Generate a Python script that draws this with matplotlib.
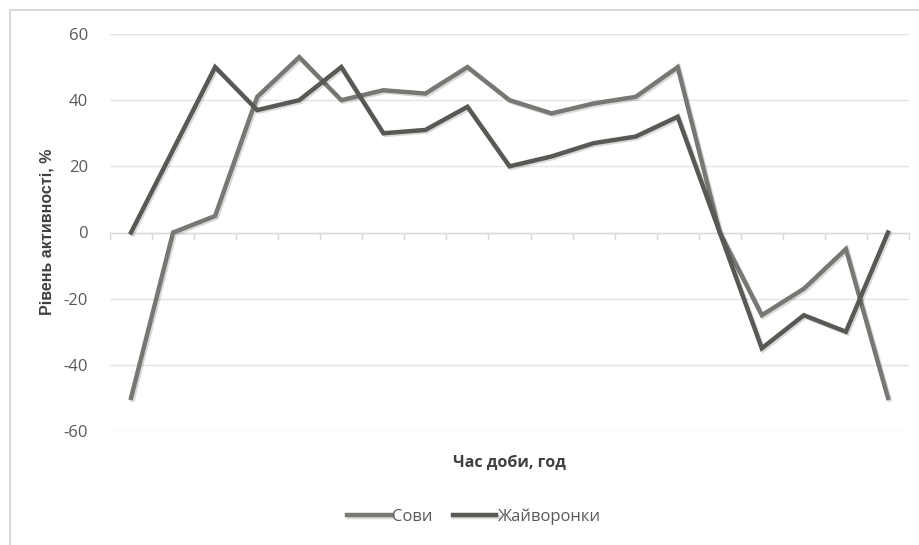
import matplotlib
matplotlib.use("Agg")
import matplotlib.pyplot as plt
import matplotlib.patheffects as pe
from matplotlib.patches import Rectangle
import numpy as np

# data
hours = list(range(19))
owls = [-50, 0, 5, 41, 53, 40, 43, 42, 50, 40, 36, 39, 41, 50, 0, -25, -17, -5, -50]
larks = [0, 25, 50, 37, 40, 50, 30, 31, 38, 20, 23, 27, 29, 35, 0, -35, -25, -30, 0]
series_names = ["Сови", "Жайворонки"]
y_ticks = [-60, -40, -20, 0, 20, 40, 60]

W, H = 919, 545
plt.rcParams['font.family'] = ['Open Sans', 'DejaVu Sans']

fig = plt.figure(figsize=(W / 100, H / 100), dpi=100)

# chart area border (Excel style)
fig.patches.append(Rectangle((10 / W, -0.1), 1.2, 1.1 - 10 / H,
                             transform=fig.transFigure, fill=False,
                             edgecolor='#d9d9d9', linewidth=1.5))

ax = fig.add_axes([110 / W, 1 - 431 / H, (909 - 110) / W, (431 - 34) / H])

shadow = [pe.SimpleLineShadow(offset=(1.2, -1.2), shadow_color='#000000', alpha=0.15), pe.Normal()]
ax.plot(hours, owls, color='#787773', linewidth=3.2, solid_joinstyle='miter',
        label=series_names[0], path_effects=shadow, zorder=3)
ax.plot(hours, larks, color='#595854', linewidth=3.2, solid_joinstyle='miter',
        label=series_names[1], path_effects=shadow, zorder=3)

ax.set_xlim(-0.5, len(hours) - 0.5)
ax.set_ylim(-60, 60)
ax.set_yticks(y_ticks)
ax.set_yticklabels([str(v) for v in y_ticks], fontsize=12, color='#595959')
ax.tick_params(axis='y', length=0, pad=16)
ax.grid(axis='y', color='#e3e3e3', linewidth=1.0, zorder=0)

for s in ['top', 'right', 'left']:
    ax.spines[s].set_visible(False)
ax.spines['bottom'].set_position(('data', 0))
ax.spines['bottom'].set_color('#d9d9d9')
ax.spines['bottom'].set_linewidth(1.0)
ax.set_xticks(np.arange(-0.5, len(hours)))
ax.set_xticklabels([])
ax.tick_params(axis='x', direction='out', length=5, width=1.0, color='#d9d9d9')

fig.text(47 / W, 1 - 232 / H, "Рівень активності, %", rotation=90, ha='center', va='center',
         fontsize=11.5, fontweight='bold', color='#404040', family=['Liberation Sans', 'DejaVu Sans'])
fig.text(509 / W, 1 - 463 / H, "Час доби, год", ha='center', va='center',
         fontsize=11.5, fontweight='bold', color='#404040')

fig.legend(loc='center', bbox_to_anchor=(474 / W, 1 - 517 / H), ncol=2, frameon=False,
           fontsize=12, handlelength=2.6, handletextpad=0.1, columnspacing=1.2,
           labelcolor='#595959')

fig.savefig("out.png", dpi=100)
